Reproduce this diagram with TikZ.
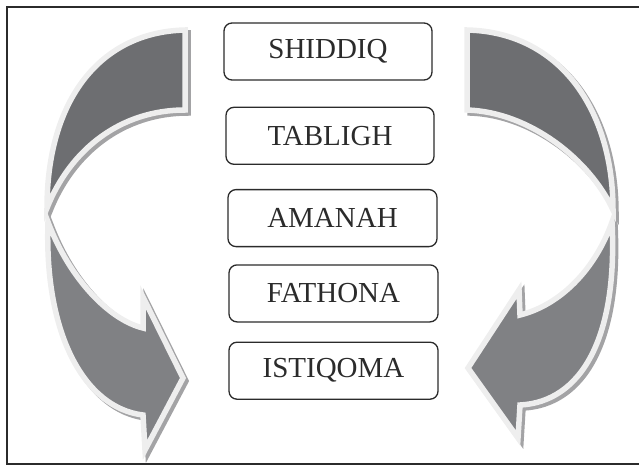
\documentclass[tikz,border=0pt]{standalone}
\usepackage{fontspec}
\setmainfont{Liberation Serif}
\usetikzlibrary{positioning}
\definecolor{bandDark}{HTML}{6D6E71}
\definecolor{bandMid}{HTML}{808184}
\definecolor{bandEdge}{HTML}{EEEEEE}
\definecolor{bandShadow}{HTML}{A3A3A5}
\definecolor{inkGrey}{HTML}{2B2B2B}

\begin{document}
\begin{tikzpicture}[
    x=1pt, y=-1pt,
    sifat/.style={rectangle, draw=inkGrey, line width=1.3pt, rounded corners=8pt,
                  minimum width=208pt, minimum height=57pt, inner sep=0pt,
                  font=\fontsize{29}{32}\selectfont, text=inkGrey},
    band/.style={draw=bandEdge, line width=5.5pt, line join=miter},
    shade/.style={fill=bandShadow, draw=bandShadow, line width=5.5pt, shift={(3,3)}},
    frame/.style={draw=inkGrey, line width=1.4pt}
]
\useasboundingbox (0,0) rectangle (639,469);
\draw[frame] (7,7) rectangle (648,464);

% shadows
\filldraw[shade] (185,30) .. controls (100,32) and (47,100) .. (47,208)
    .. controls (70,150) and (120,110) .. (185,110) -- cycle;
\filldraw[shade] (48,222) .. controls (44,335) and (85,408) .. (143,415)
    -- (145,450) -- (183,378) -- (143,297) -- (143,328)
    .. controls (110,320) and (70,280) .. (48,222) -- cycle;
\filldraw[shade] (467,30) .. controls (560,32) and (613,110) .. (613,210)
    .. controls (590,160) and (530,112) .. (467,110) -- cycle;
\filldraw[shade] (612,222) .. controls (618,340) and (580,402) .. (520,405)
    -- (518,438) -- (468,368) -- (519,290) -- (520,315)
    .. controls (560,305) and (595,270) .. (612,222) -- cycle;

% left arrow
\filldraw[band, fill=bandDark] (185,30) .. controls (100,32) and (47,100) .. (47,208)
    .. controls (70,150) and (120,110) .. (185,110) -- cycle;
\filldraw[band, fill=bandMid] (48,222) .. controls (44,335) and (85,408) .. (143,415)
    -- (145,450) -- (183,378) -- (143,297) -- (143,328)
    .. controls (110,320) and (70,280) .. (48,222) -- cycle;

% right arrow
\filldraw[band, fill=bandDark] (467,30) .. controls (560,32) and (613,110) .. (613,210)
    .. controls (590,160) and (530,112) .. (467,110) -- cycle;
\filldraw[band, fill=bandMid] (612,222) .. controls (618,340) and (580,402) .. (520,405)
    -- (518,438) -- (468,368) -- (519,290) -- (520,315)
    .. controls (560,305) and (595,270) .. (612,222) -- cycle;

% sifat
\node[sifat] (shiddiq) at (328,51.5) {SHIDDIQ};
\node[sifat, below=26pt of shiddiq, xshift=2pt] (tabligh) {TABLIGH};
\node[sifat, below=24pt of tabligh, xshift=2.5pt, minimum width=209pt] (amanah) {AMANAH};
\node[sifat, below=17pt of amanah, xshift=1pt, minimum width=209pt] (fathona) {FATHONA};
\node[sifat, below=19pt of fathona, minimum width=209pt] (istiqoma) {ISTIQOMA};
\end{tikzpicture}
\end{document}
